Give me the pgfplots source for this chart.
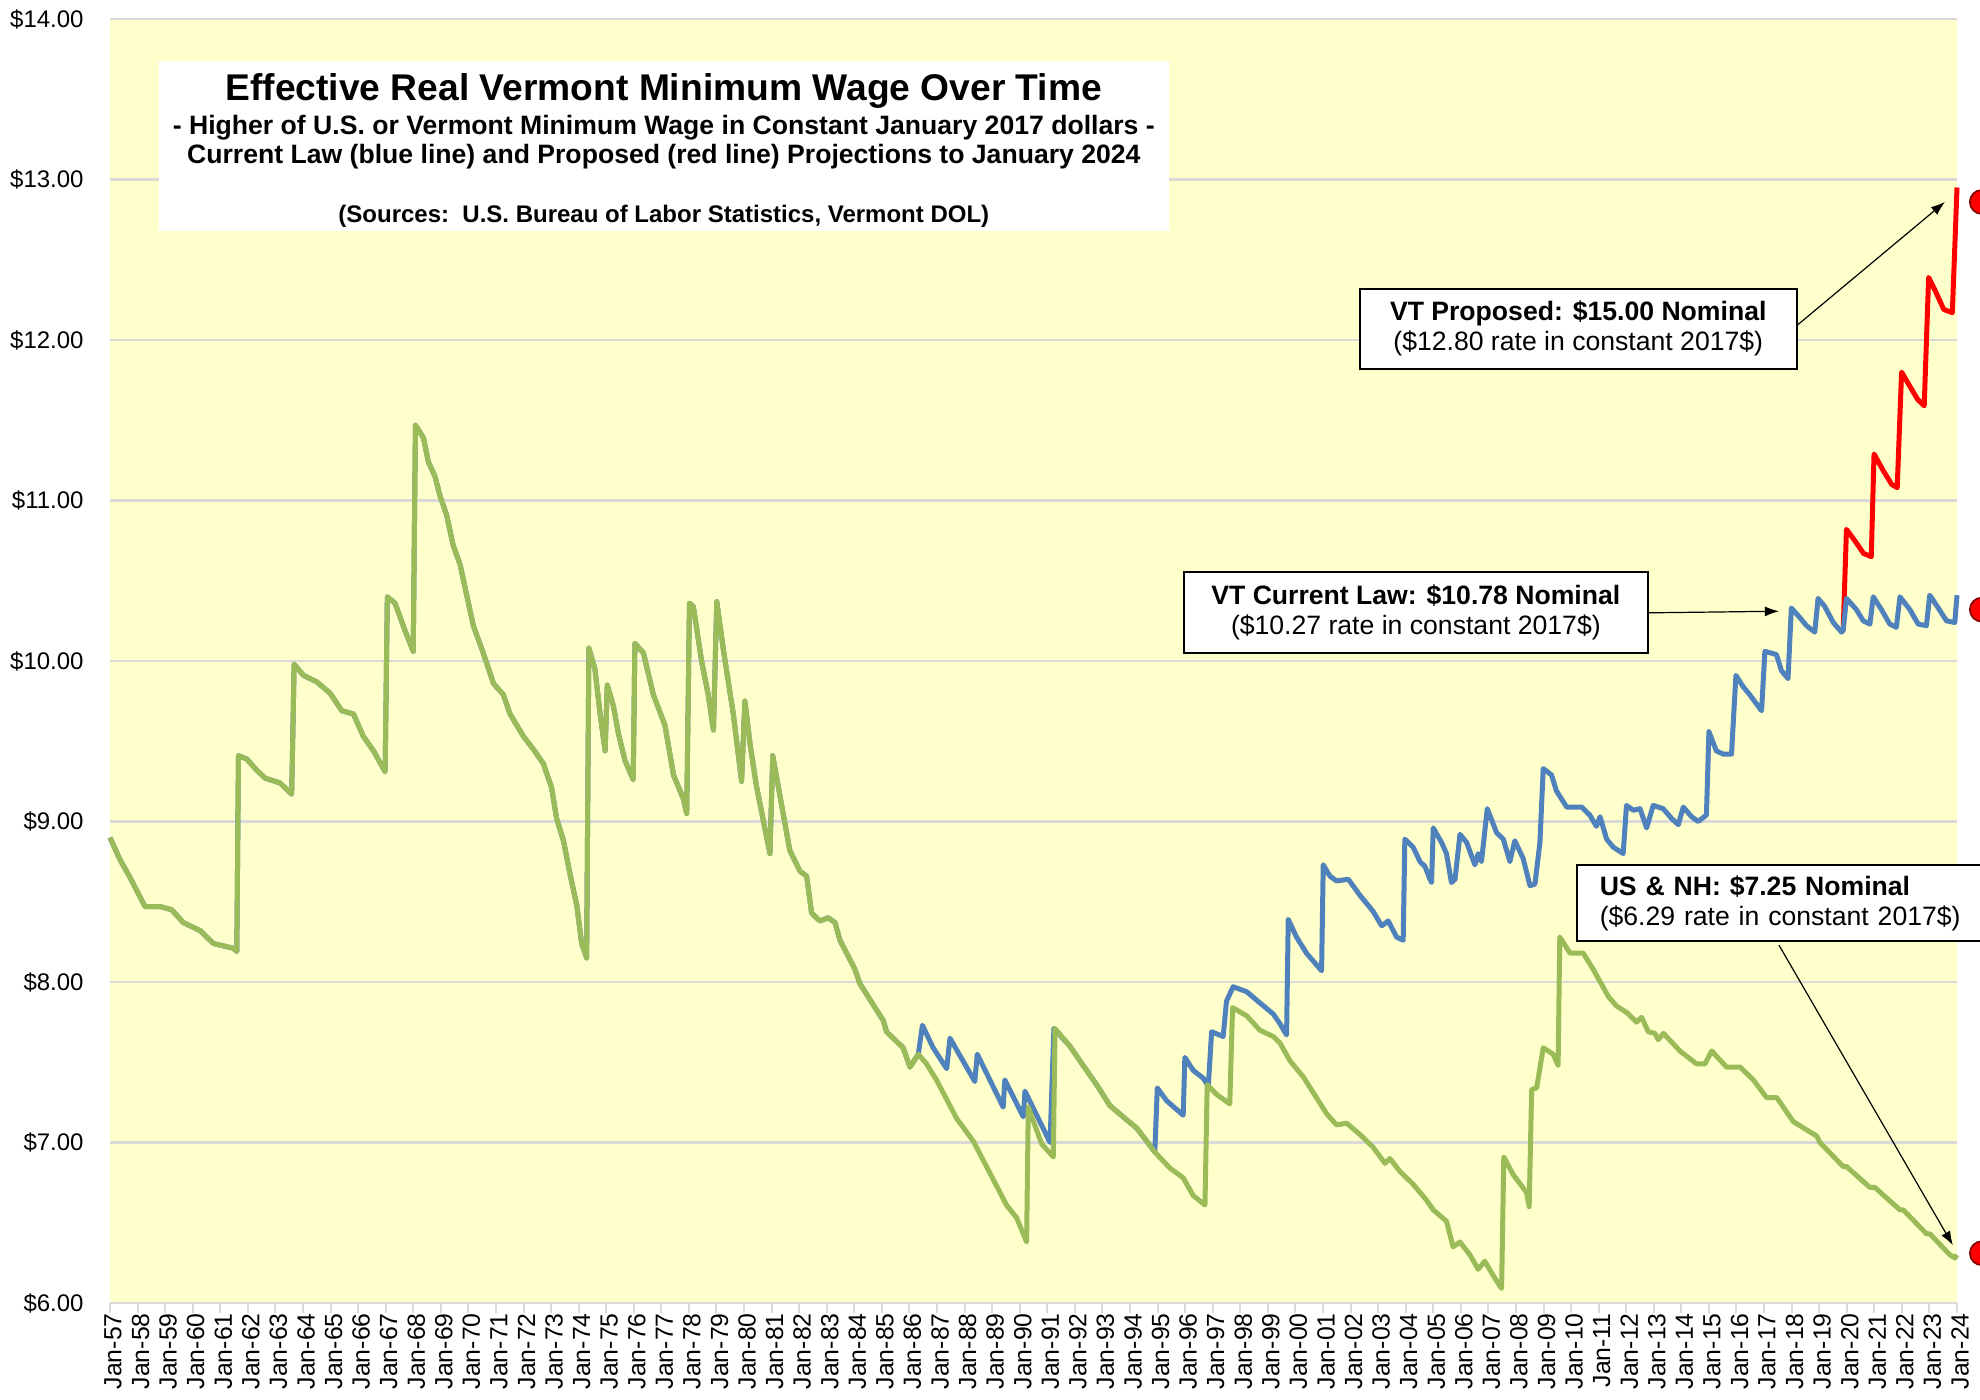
\documentclass[border=0pt]{standalone}
\usepackage{fontspec}
\setmainfont{Liberation Sans}
\usepackage{pgfplots}
\usepackage{pgfplotstable}
\pgfplotsset{compat=1.18}
\usetikzlibrary{arrows.meta}
\definecolor{bgyellow}{HTML}{FFFFCC}
\definecolor{gridgray}{HTML}{D9D9D9}
\definecolor{vtblue}{HTML}{4F81BD}
\definecolor{usgreen}{HTML}{9BBB59}
\definecolor{darkred}{HTML}{7F0000}

\pgfplotstableread{
x y
1957.00 8.90
1957.37 8.76
1957.73 8.65
1957.97 8.57
1958.27 8.47
1958.82 8.47
1959.24 8.45
1959.66 8.37
1960.27 8.32
1960.75 8.24
1961.48 8.21
1961.60 8.19
1961.66 9.41
1961.96 9.39
1962.32 9.32
1962.63 9.27
1963.17 9.24
1963.59 9.17
1963.68 9.98
1964.02 9.91
1964.50 9.87
1964.98 9.80
1965.41 9.69
1965.83 9.67
1966.19 9.53
1966.56 9.44
1966.98 9.31
1967.06 10.40
1967.34 10.36
1967.70 10.19
1968.00 10.06
1968.08 11.47
1968.37 11.39
1968.55 11.24
1968.79 11.15
1968.97 11.03
1969.21 10.91
1969.45 10.72
1969.70 10.60
1969.94 10.41
1970.18 10.22
1970.54 10.05
1970.91 9.86
1971.27 9.79
1971.51 9.67
1972.00 9.53
1972.36 9.45
1972.72 9.36
1973.02 9.21
1973.20 9.02
1973.45 8.88
1973.69 8.67
1973.93 8.48
1974.11 8.24
1974.29 8.15
1974.37 10.08
1974.59 9.95
1974.78 9.67
1974.96 9.44
1975.04 9.85
1975.26 9.72
1975.44 9.55
1975.68 9.38
1975.98 9.26
1976.04 10.11
1976.35 10.05
1976.71 9.79
1977.13 9.60
1977.44 9.29
1977.80 9.14
1977.92 9.05
1978.02 10.36
1978.16 10.34
1978.46 10.00
1978.70 9.79
1978.89 9.57
1979.01 10.37
1979.25 10.07
1979.61 9.67
1979.91 9.25
1980.03 9.75
1980.22 9.48
1980.45 9.22
1980.94 8.80
1981.04 9.41
1981.66 8.82
1982.03 8.69
1982.27 8.66
1982.45 8.43
1982.75 8.38
1983.05 8.40
1983.30 8.37
1983.48 8.26
1984.02 8.08
1984.20 7.99
1985.05 7.76
1985.17 7.69
1985.77 7.59
1986.02 7.47
1986.32 7.55
1986.62 7.49
1986.98 7.39
1987.71 7.15
1988.31 7.01
1989.16 6.73
1989.52 6.61
1989.89 6.53
1990.25 6.38
1990.31 7.22
1990.80 6.99
1991.22 6.91
1991.28 7.71
1991.82 7.60
1992.30 7.48
1992.79 7.36
1993.27 7.23
1993.75 7.16
1994.24 7.09
1994.60 7.01
1994.90 6.94
1995.45 6.84
1995.93 6.78
1996.29 6.67
1996.72 6.61
1996.80 7.36
1997.14 7.30
1997.62 7.24
1997.72 7.84
1998.23 7.79
1998.71 7.70
1999.20 7.66
1999.44 7.62
1999.80 7.51
2000.28 7.41
2000.65 7.31
2001.13 7.18
2001.49 7.11
2001.86 7.12
2002.34 7.05
2002.82 6.97
2003.25 6.87
2003.43 6.90
2003.79 6.82
2004.27 6.74
2004.76 6.64
2005.00 6.58
2005.48 6.51
2005.72 6.35
2005.97 6.38
2006.33 6.30
2006.63 6.21
2006.87 6.26
2007.18 6.17
2007.48 6.09
2007.56 6.91
2007.90 6.80
2008.38 6.69
2008.48 6.60
2008.57 7.33
2008.75 7.34
2008.99 7.59
2009.35 7.55
2009.53 7.48
2009.59 8.28
2009.96 8.18
2010.44 8.18
2010.80 8.08
2011.35 7.91
2011.65 7.85
2012.02 7.81
2012.38 7.75
2012.56 7.78
2012.80 7.69
2013.04 7.68
2013.16 7.64
2013.35 7.68
2013.95 7.57
2014.55 7.49
2014.86 7.49
2015.10 7.57
2015.64 7.47
2016.13 7.47
2016.61 7.39
2017.09 7.28
2017.46 7.28
2018.06 7.13
2018.91 7.04
2019.03 7.00
2019.87 6.85
2019.99 6.85
2020.84 6.72
2021.02 6.72
2021.93 6.58
2022.05 6.58
2022.90 6.43
2023.02 6.43
2023.74 6.30
2023.92 6.28
2024.00 6.30
}\greendata

\pgfplotstableread{
x y
1957.00 8.90
1957.37 8.76
1957.73 8.65
1957.97 8.57
1958.27 8.47
1958.82 8.47
1959.24 8.45
1959.66 8.37
1960.27 8.32
1960.75 8.24
1961.48 8.21
1961.60 8.19
1961.66 9.41
1961.96 9.39
1962.32 9.32
1962.63 9.27
1963.17 9.24
1963.59 9.17
1963.68 9.98
1964.02 9.91
1964.50 9.87
1964.98 9.80
1965.41 9.69
1965.83 9.67
1966.19 9.53
1966.56 9.44
1966.98 9.31
1967.06 10.40
1967.34 10.36
1967.70 10.19
1968.00 10.06
1968.08 11.47
1968.37 11.39
1968.55 11.24
1968.79 11.15
1968.97 11.03
1969.21 10.91
1969.45 10.72
1969.70 10.60
1969.94 10.41
1970.18 10.22
1970.54 10.05
1970.91 9.86
1971.27 9.79
1971.51 9.67
1972.00 9.53
1972.36 9.45
1972.72 9.36
1973.02 9.21
1973.20 9.02
1973.45 8.88
1973.69 8.67
1973.93 8.48
1974.11 8.24
1974.29 8.15
1974.37 10.08
1974.59 9.95
1974.78 9.67
1974.96 9.44
1975.04 9.85
1975.26 9.72
1975.44 9.55
1975.68 9.38
1975.98 9.26
1976.04 10.11
1976.35 10.05
1976.71 9.79
1977.13 9.60
1977.44 9.29
1977.80 9.14
1977.92 9.05
1978.02 10.36
1978.16 10.34
1978.46 10.00
1978.70 9.79
1978.89 9.57
1979.01 10.37
1979.25 10.07
1979.61 9.67
1979.91 9.25
1980.03 9.75
1980.22 9.48
1980.45 9.22
1980.94 8.80
1981.04 9.41
1981.66 8.82
1982.03 8.69
1982.27 8.66
1982.45 8.43
1982.75 8.38
1983.05 8.40
1983.30 8.37
1983.48 8.26
1984.02 8.08
1984.20 7.99
1985.05 7.76
1985.17 7.69
1985.77 7.59
1986.02 7.47
1986.32 7.55
1986.47 7.73
1986.86 7.59
1987.35 7.46
1987.47 7.65
1988.37 7.38
1988.46 7.55
1989.40 7.22
1989.46 7.39
1990.13 7.16
1990.19 7.32
1991.10 7.00
1991.24 7.71
1991.82 7.60
1992.30 7.48
1992.79 7.36
1993.27 7.23
1993.75 7.16
1994.24 7.09
1994.60 7.01
1994.90 6.94
1994.99 7.34
1995.33 7.26
1995.93 7.17
1995.99 7.53
1996.29 7.45
1996.66 7.40
1996.84 7.35
1996.96 7.69
1997.38 7.66
1997.50 7.88
1997.74 7.97
1998.23 7.94
1998.71 7.87
1999.20 7.80
1999.44 7.74
1999.68 7.67
1999.74 8.39
2000.04 8.28
2000.40 8.18
2000.95 8.07
2001.01 8.73
2001.25 8.66
2001.49 8.63
2001.92 8.64
2002.34 8.54
2002.82 8.44
2003.13 8.35
2003.37 8.38
2003.67 8.28
2003.91 8.26
2003.97 8.89
2004.27 8.84
2004.52 8.75
2004.70 8.72
2004.88 8.64
2004.94 8.62
2005.00 8.96
2005.30 8.87
2005.48 8.80
2005.66 8.62
2005.79 8.64
2005.97 8.92
2006.21 8.87
2006.51 8.73
2006.63 8.80
2006.75 8.75
2006.96 9.08
2007.30 8.93
2007.54 8.89
2007.78 8.75
2007.96 8.88
2008.26 8.77
2008.51 8.60
2008.69 8.61
2008.87 8.87
2008.99 9.33
2009.29 9.29
2009.47 9.19
2009.84 9.09
2010.38 9.09
2010.68 9.04
2010.92 8.97
2011.05 9.03
2011.29 8.89
2011.53 8.84
2011.89 8.80
2012.01 9.10
2012.26 9.07
2012.50 9.08
2012.74 8.96
2012.98 9.10
2013.34 9.08
2013.64 9.02
2013.89 8.98
2014.07 9.09
2014.37 9.03
2014.61 9.00
2014.91 9.04
2015.00 9.56
2015.27 9.44
2015.52 9.42
2015.82 9.42
2015.98 9.91
2016.24 9.84
2016.48 9.79
2016.91 9.69
2017.03 10.06
2017.45 10.04
2017.63 9.94
2017.87 9.89
2017.99 10.33
2018.30 10.27
2018.54 10.22
2018.84 10.18
2018.96 10.39
2019.20 10.34
2019.51 10.24
2019.81 10.18
2019.87 10.19
2019.99 10.39
2020.35 10.32
2020.60 10.25
2020.84 10.23
2020.96 10.40
2021.26 10.32
2021.56 10.23
2021.80 10.21
2021.93 10.40
2022.29 10.32
2022.59 10.23
2022.89 10.22
2023.01 10.41
2023.32 10.33
2023.62 10.25
2023.92 10.24
2024.00 10.41
}\bluedata

\pgfplotstableread{
x y
2019.87 10.19
2019.99 10.82
2020.29 10.75
2020.61 10.67
2020.89 10.65
2020.99 11.29
2021.31 11.19
2021.63 11.10
2021.83 11.08
2021.99 11.80
2022.26 11.72
2022.57 11.63
2022.81 11.59
2022.97 12.39
2023.20 12.31
2023.52 12.19
2023.83 12.17
2024.00 12.95
}\reddata

\begin{document}
\begin{tikzpicture}
\begin{axis}[
  at={(0,0)}, anchor=south west,
  width=923.5pt, height=642pt, scale only axis,
  xmin=1957, xmax=2024, ymin=6, ymax=14,
  clip=false,
  axis background/.style={fill=bgyellow},
  axis x line*=bottom, axis y line*=left,
  x axis line style={-, draw=gridgray, line width=1.2pt},
  y axis line style={draw=none},
  ytick={6,7,...,14},
  ytick style={draw=none},
  ymajorgrids, grid style={gridgray, line width=1.2pt},
  xtick={1957,1958,...,2024},
  xtick style={gridgray, line width=1pt},
  tick align=outside, major tick length=5pt,
  xticklabels={Jan-57,Jan-58,Jan-59,Jan-60,Jan-61,Jan-62,Jan-63,Jan-64,Jan-65,Jan-66,Jan-67,Jan-68,Jan-69,Jan-70,Jan-71,Jan-72,Jan-73,Jan-74,Jan-75,Jan-76,Jan-77,Jan-78,Jan-79,Jan-80,Jan-81,Jan-82,Jan-83,Jan-84,Jan-85,Jan-86,Jan-87,Jan-88,Jan-89,Jan-90,Jan-91,Jan-92,Jan-93,Jan-94,Jan-95,Jan-96,Jan-97,Jan-98,Jan-99,Jan-00,Jan-01,Jan-02,Jan-03,Jan-04,Jan-05,Jan-06,Jan-07,Jan-08,Jan-09,Jan-10,Jan-11,Jan-12,Jan-13,Jan-14,Jan-15,Jan-16,Jan-17,Jan-18,Jan-19,Jan-20,Jan-21,Jan-22,Jan-23,Jan-24},
  xticklabel style={rotate=90, anchor=east, inner sep=0pt, yshift=-1.5pt, font=\fontsize{12.4}{12.4}\selectfont},
  yticklabel={\$\pgfmathprintnumber[fixed,fixed zerofill,precision=2,assume math mode=true]{\tick}},
  yticklabel style={anchor=east, inner sep=0pt, xshift=-8pt, font=\fontsize{12}{12}\selectfont},
]
\addplot[red, line width=2.5pt, line join=round] table[x=x,y=y]{\reddata};
\addplot[vtblue, line width=2.5pt, line join=round] table[x=x,y=y]{\bluedata};
\addplot[usgreen, line width=2.5pt, line join=round] table[x=x,y=y]{\greendata};
\addplot[only marks, mark=*, mark size=6pt, mark options={fill=red, draw=darkred, line width=0.8pt}] coordinates {(2024.9,12.86) (2024.9,10.32) (2024.9,6.31)};

% title box
\fill[white] (axis cs:1958.78,13.74) rectangle (axis cs:1995.41,12.68);
\node[anchor=base, inner sep=0pt, font=\bfseries\fontsize{18.6}{18.6}\selectfont] at (axis cs:1977.09,13.49) {Effective Real Vermont Minimum Wage Over Time};
\node[anchor=base, inner sep=0pt, font=\bfseries\fontsize{13.3}{13.3}\selectfont] at (axis cs:1977.09,13.28) {- Higher of U.S. or Vermont Minimum Wage in Constant January 2017 dollars -};
\node[anchor=base, inner sep=0pt, font=\bfseries\fontsize{13.3}{13.3}\selectfont] at (axis cs:1977.09,13.10) {Current Law (blue line) and Proposed (red line) Projections to January 2024};
\node[anchor=base, inner sep=0pt, font=\bfseries\fontsize{12}{12}\selectfont] at (axis cs:1977.09,12.73) {(Sources:\ \ U.S. Bureau of Labor Statistics, Vermont DOL)};

% callouts
\node[draw=black, fill=white, line width=1pt, minimum width=218.5pt, minimum height=40pt, inner sep=0pt, align=center, font=\fontsize{13.3}{15}\selectfont] at (axis cs:2010.26,12.07) {\textbf{VT Proposed: \$15.00 Nominal}\\(\$12.80 rate in constant 2017\$)};
\draw[line width=0.6pt, -{Latex[length=7pt,width=5pt]}] (axis cs:2018.19,12.09) -- (axis cs:2023.56,12.86);

\node[draw=black, fill=white, line width=1pt, minimum width=232pt, minimum height=40.5pt, inner sep=0pt, align=center, font=\fontsize{13.3}{15}\selectfont] at (axis cs:2004.37,10.30) {\textbf{VT Current Law: \$10.78 Nominal}\\(\$10.27 rate in constant 2017\$)};
\draw[line width=0.6pt, -{Latex[length=7pt,width=5pt]}] (axis cs:2012.78,10.30) -- (axis cs:2017.54,10.31);

\node[draw=black, fill=white, line width=1pt, minimum width=215pt, minimum height=38pt, inner xsep=11.5pt, inner ysep=0pt, anchor=west, align=left, text width=192pt, font=\fontsize{13.3}{15}\selectfont] at (axis cs:2010.17,8.49) {\textbf{US \& NH: \$7.25 Nominal}\\(\$6.29 rate in constant 2017\$)};
\draw[line width=0.6pt, -{Latex[length=7pt,width=5pt]}] (axis cs:2017.54,8.23) -- (axis cs:2023.85,6.36);
\end{axis}
\pgfresetboundingbox
\useasboundingbox (-55pt,-48.5pt) rectangle (935pt,651.5pt);
\end{tikzpicture}
\end{document}
